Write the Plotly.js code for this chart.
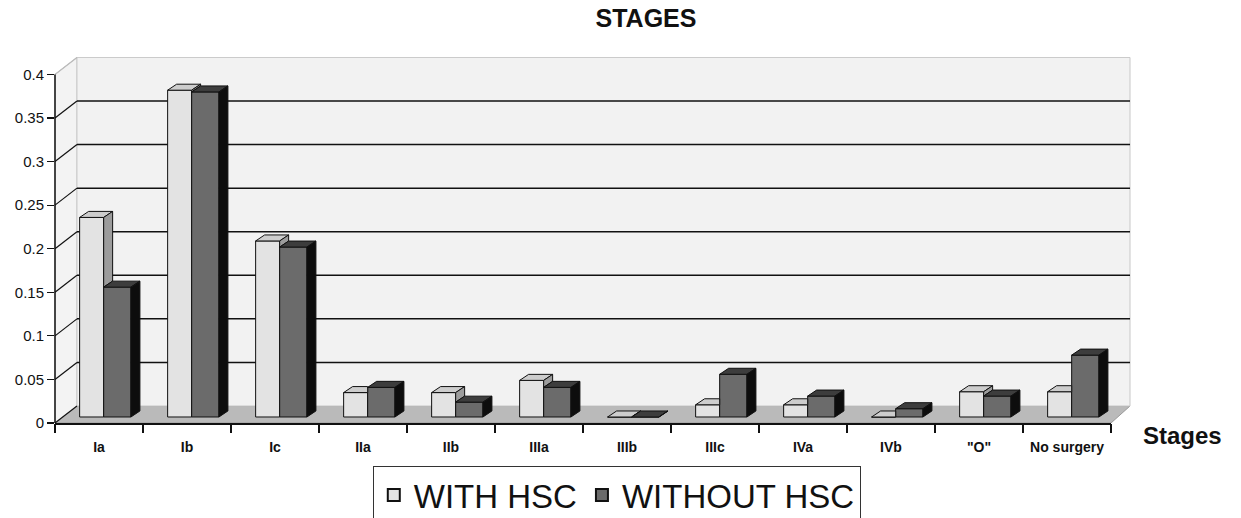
<!DOCTYPE html>
<html><head><meta charset="utf-8">
<script src="https://cdn.plot.ly/plotly-3.0.1.min.js"></script>
<style>html,body{margin:0;padding:0;background:#fff;}#chart{width:1241px;height:518px;}</style>
</head><body><div id="chart"></div>
<script>
const categories = ['Ia','Ib','Ic','IIa','IIb','IIIa','IIIb','IIIc','IVa','IVb','"O"','No surgery'];
const withHSC    = [0.229,0.375,0.202,0.028,0.028,0.042,0,0.014,0.014,0,0.029,0.029];
const withoutHSC = [0.149,0.373,0.195,0.034,0.017,0.034,0,0.049,0.024,0.0095,0.024,0.071];
const yTickVals = [0,0.05,0.1,0.15,0.2,0.25,0.3,0.35,0.4];
const yTickText = ['0','0.05','0.1','0.15','0.2','0.25','0.3','0.35','0.4'];
const seriesNames = ['WITH HSC','WITHOUT HSC'];

const FONT = '"Liberation Sans", Arial, sans-serif';
const xs = categories.map((_, i) => i);
const bounds = [];
for (let i = 0; i <= categories.length; i++) bounds.push(i - 0.5);

// pseudo-3D geometry (category units / data units)
const lOff = -0.22, lW = 0.273, dOff = 0.053, dW = 0.31;
const dx = 0.102, dy = 0.0069;      // bar depth
const lift = 0.0069;                // bars stand at mid-depth of the floor
const wx = 0.0208, wy = 0.0195;     // wall depth (paper x, data y)

const lightTop = {x: [], y: []}, lightSide = {x: [], y: []}, darkTop = {x: [], y: []}, darkSide = {x: [], y: []};
function poly(t, pts) { pts.forEach(p => { t.x.push(p[0]); t.y.push(p[1] + lift); }); t.x.push(pts[0][0]); t.y.push(pts[0][1] + lift); t.x.push(null); t.y.push(null); }
xs.forEach((c, i) => {
  const L = withHSC[i], D = withoutHSC[i];
  const x0 = c + lOff, x1 = x0 + lW;
  if (D > L) poly(lightTop, [[x0, L], [x1, L], [x1, L + dy], [x0 + dx, L + dy]]);
  else {
    poly(lightTop, [[x0, L], [x1, L], [x1 + dx, L + dy], [x0 + dx, L + dy]]);
    const b = Math.min(L, D);
    poly(lightSide, [[x1, b], [x1, L], [x1 + dx, L + dy], [x1 + dx, b + dy]]);
  }
  const d0 = c + dOff, d1 = d0 + dW;
  poly(darkTop, [[d0, D], [d1, D], [d1 + dx, D + dy], [d0 + dx, D + dy]]);
  poly(darkSide, [[d1, 0], [d1, D], [d1 + dx, D + dy], [d1 + dx, dy]]);
});

function face(t, color) {
  return {type: 'scatter', mode: 'lines', x: t.x, y: t.y, fill: 'toself', fillcolor: color,
    line: {color: '#111', width: 1}, showlegend: false, hoverinfo: 'skip'};
}

const traces = [
  {type: 'bar', name: seriesNames[0], x: xs, y: withHSC, base: lift, offset: lOff, width: lW,
   marker: {color: '#e3e3e3', line: {color: '#111', width: 1}}},
  {type: 'bar', name: seriesNames[1], x: xs, y: withoutHSC, base: lift, offset: dOff, width: dW,
   marker: {color: '#6b6b6b', line: {color: '#111', width: 1}}},
  face(lightTop, '#cdcdcd'), face(lightSide, '#9c9c9c'),
  face(darkTop, '#3d3d3d'), face(darkSide, '#0d0d0d'),
  {type: 'scatter', x: [null], y: [null], xaxis: 'x2', showlegend: false, hoverinfo: 'skip'}
];

const shapes = [];
// floor
shapes.push({type: 'path', xref: 'paper', yref: 'y', layer: 'below',
  path: `M 0,0 L 1,0 L ${1 + 0.018},${wy} L ${wx},${wy} Z`, fillcolor: '#bababa', line: {color: '#9a9a9a', width: 1}});
// side wall
shapes.push({type: 'path', xref: 'paper', yref: 'y', layer: 'below',
  path: `M 0,0 L ${wx},${wy} L ${wx},${0.4 + wy} L 0,0.4 Z`, fillcolor: '#f3f3f3', line: {color: '#c8c8c8', width: 1}});
// back wall
shapes.push({type: 'rect', xref: 'paper', yref: 'y', layer: 'below',
  x0: wx, x1: 1.018, y0: wy, y1: 0.4 + wy, fillcolor: '#f2f2f2', line: {color: '#c8c8c8', width: 1}});
// grid lines on back wall + diagonals from front ticks
yTickVals.forEach(v => {
  if (v > 0 && v < 0.4) shapes.push({type: 'line', xref: 'paper', yref: 'y', layer: 'below',
    x0: wx, x1: 1.018, y0: v + wy, y1: v + wy, line: {color: '#111', width: 1.5}});
  shapes.push({type: 'line', xref: 'paper', yref: 'y', layer: 'below',
    x0: 0, x1: wx, y0: v, y1: v + wy, line: {color: v === 0.4 ? '#bbbbbb' : '#111', width: 1.2}});
});
// front vertical axis line
shapes.push({type: 'line', xref: 'paper', yref: 'y', layer: 'above',
  x0: 0, x1: 0, y0: 0, y1: 0.4, line: {color: '#111', width: 1.5}});

const layout = {
  width: 1241, height: 518,
  margin: {l: 55, r: 130, t: 57, b: 95, autoexpand: false},
  paper_bgcolor: '#ffffff', plot_bgcolor: '#ffffff',
  font: {family: FONT, color: '#111'},
  title: {text: '<b>STAGES</b>', font: {family: FONT, size: 25, color: '#111'},
          xref: 'container', x: 646 / 1241, xanchor: 'center', yref: 'container', y: 1 - 18 / 518, yanchor: 'middle'},
  barmode: 'overlay',
  showlegend: true,
  legend: {orientation: 'h', x: 0.532, xanchor: 'center', yref: 'container', y: 1 - 466 / 518, yanchor: 'top',
           font: {family: FONT, size: 33, color: '#111'}, bordercolor: '#333', borderwidth: 1,
           bgcolor: '#ffffff', itemsizing: 'constant', itemwidth: 30, traceorder: 'normal'},
  xaxis: {type: 'linear', range: [-0.5, 11.5], tickvals: xs, ticktext: categories, ticks: '',
          showgrid: false, zeroline: false, showline: true, linecolor: '#111', linewidth: 1.5,
          tickfont: {family: FONT, size: 14, color: '#111', weight: 'bold'}, ticklabelstandoff: 11,
          fixedrange: true},
  xaxis2: {overlaying: 'x', anchor: 'y', side: 'bottom', type: 'linear', range: [-0.5, 11.5],
           tickvals: bounds, ticks: 'outside', ticklen: 9, tickwidth: 1.5, tickcolor: '#111',
           showticklabels: false, showgrid: false, zeroline: false, showline: false},
  yaxis: {range: [0, 0.42], tickvals: yTickVals, ticktext: yTickText, ticks: 'outside', ticklen: 7,
          tickwidth: 1.2, tickcolor: '#111', showgrid: false, zeroline: false, showline: false,
          tickfont: {family: FONT, size: 15, color: '#111'}, fixedrange: true},
  shapes: shapes,
  annotations: [{text: '<b>Stages</b>', xref: 'paper', yref: 'paper', x: 1.068, y: -0.033,
                 xanchor: 'center', yanchor: 'middle', showarrow: false,
                 font: {family: FONT, size: 24, color: '#111'}}]
};

Plotly.newPlot('chart', traces, layout, {displayModeBar: false, staticPlot: true});
</script></body></html>
